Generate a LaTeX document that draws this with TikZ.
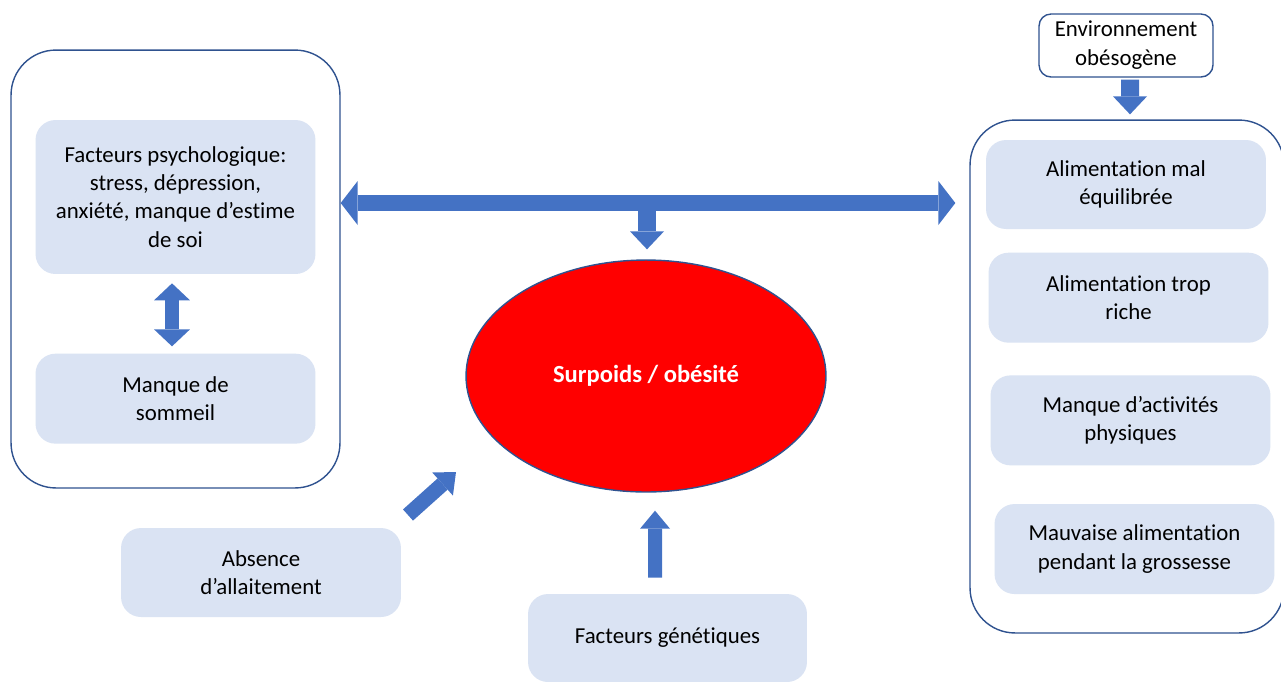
\documentclass[tikz,border=0pt]{standalone}
\usepackage{fontspec}
\setmainfont{Carlito}[Ligatures={NoCommon}]
\usetikzlibrary{positioning, arrows.meta, shapes.geometric}

\definecolor{boxfill}{HTML}{DAE3F3}
\definecolor{arrblue}{HTML}{4472C4}
\definecolor{edgeblue}{HTML}{2F528F}

\begin{document}
\begin{tikzpicture}[
    x=0.02cm, y=-0.02cm,
    font=\fontsize{13}{16}\selectfont,
    group/.style={
        draw=edgeblue, line width=0.8pt, rounded corners=0.9cm,
        fill=white, inner sep=0pt,
    },
    factor/.style={
        fill=boxfill, rounded corners=0.4cm, align=center,
        inner sep=4pt, minimum width=5.6cm, minimum height=1.8cm,
    },
    arr/.style={draw=arrblue, line width=#1},
    one/.style={-{Triangle[length=0.36cm, width=#1, line width=0pt]}},
    two/.style={{Triangle[length=0.34cm, width=#1, line width=0pt]}-{Triangle[length=0.34cm, width=#1, line width=0pt]}},
]
\path[use as bounding box, clip] (0,0) rectangle (1281,681);

% --- Containers ---------------------------------------------
\node[group, minimum width=6.58cm, minimum height=8.76cm] (leftgrp) at (175.5,269) {};
\node[group, minimum width=6.28cm, minimum height=10.26cm] (rightgrp) at (1127,376.5) {};

% --- Left side ----------------------------------------------
\node[factor, minimum height=3.08cm] (psych) at (175.5,197)
    {Facteurs psychologique:\\ stress, dépression,\\ anxiété, manque d’estime\\ de soi};
\node[factor, below=1.58cm of psych] (sommeil) {Manque de\\ sommeil};

% --- Right side ---------------------------------------------
\node[factor, minimum height=1.78cm] (alim) at (1126,184.5) {Alimentation mal\\ équilibrée};
\node[factor, below=0.46cm of alim, xshift=0.05cm] (riche) {Alimentation trop\\ riche};
\node[factor, below=0.64cm of riche, xshift=0.04cm] (activ) {Manque d’activités\\ physiques};
\node[factor, below=0.76cm of activ, xshift=0.08cm] (gross) {Mauvaise alimentation\\ pendant la grossesse};

\node[draw=edgeblue, line width=0.8pt, rounded corners=0.24cm, fill=white, align=center,
      minimum width=3.48cm, minimum height=1.26cm, font=\fontsize{13}{16.5}\selectfont] (env) at (1126,45.5)
    {Environnement\\ obésogène};

% --- Centre -------------------------------------------------
\node[ellipse, draw=edgeblue, line width=0.8pt, fill=red, inner sep=0pt,
      minimum width=7.2cm, minimum height=4.64cm, text=white,
      font=\fontsize{14}{17}\selectfont\bfseries] (obes) at (646,376) {Surpoids / obésité};

% --- Bottom -------------------------------------------------
\node[factor, minimum height=1.78cm] (allait) at (261,572.5) {Absence\\ d’allaitement};
\node[factor, minimum width=5.58cm, minimum height=1.76cm] (genet) at (667.5,638) {Facteurs génétiques};

% --- Arrows -------------------------------------------------
\coordinate (barmid) at (647,203);
\draw[arr=0.36cm, one=0.68cm] (barmid) -- ([yshift=0.2cm]obes.north -| barmid);
\draw[arr=0.32cm, two=0.88cm] (leftgrp.east |- barmid) -- ([xshift=-0.28cm]rightgrp.west |- barmid);
\draw[arr=0.28cm, two=0.72cm] ([xshift=-0.07cm, yshift=-0.18cm]psych.south) -- ([xshift=-0.07cm, yshift=0.14cm]sommeil.north);
\draw[arr=0.36cm, one=0.68cm] ([xshift=0.08cm, yshift=-0.04cm]env.south) -- ([yshift=0.1cm]rightgrp.north -| 1130,0);
\draw[arr=0.28cm, one=0.6cm] ([xshift=-0.25cm, yshift=0.32cm]genet.north) -- ([xshift=0.18cm, yshift=-0.36cm]obes.south);

\coordinate (diagS) at (408,515);
\coordinate (diagE) at (456,472);
\draw[arr=0.3cm, one=0.62cm] (diagS) -- (diagE);

\end{tikzpicture}
\end{document}
